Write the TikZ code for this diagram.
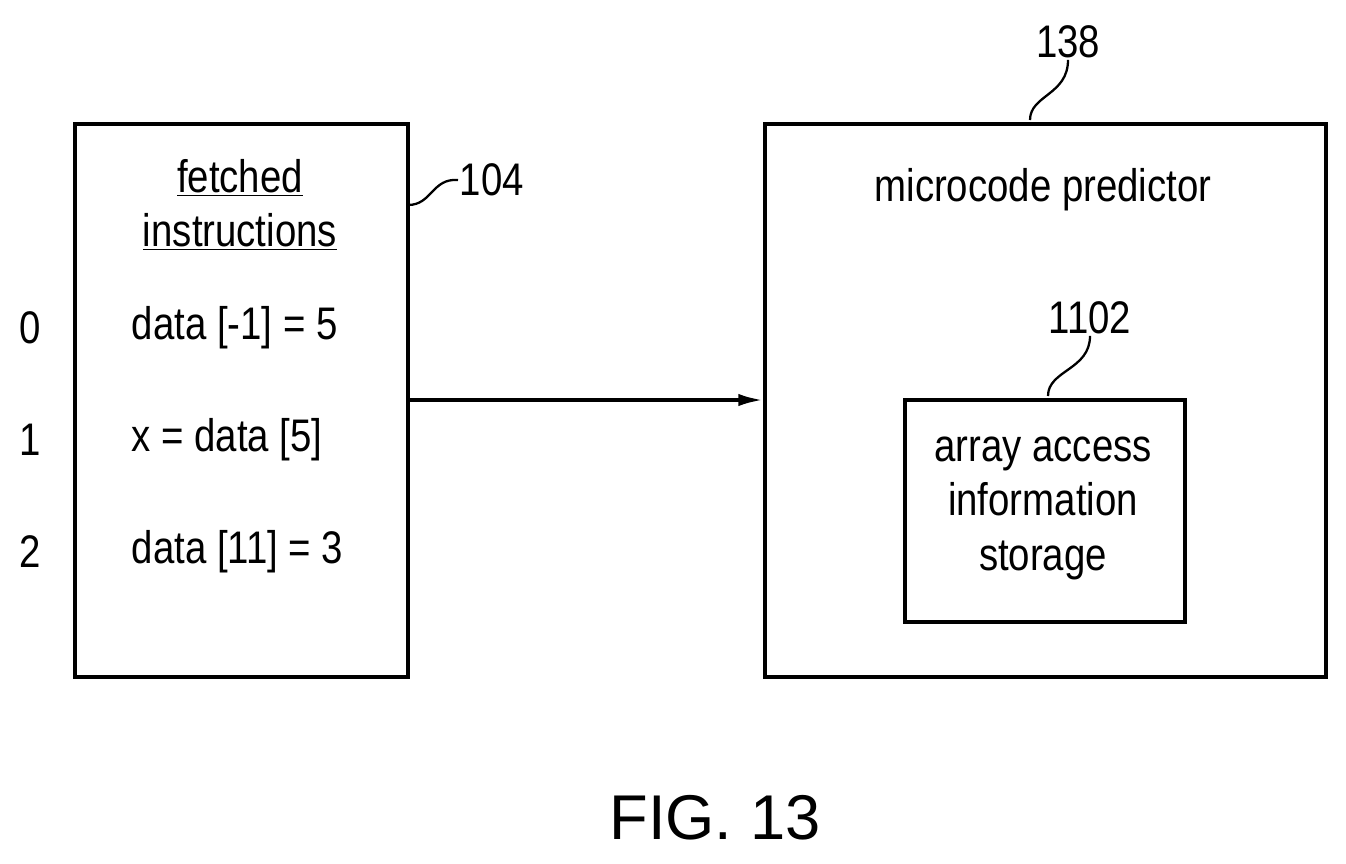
\documentclass[tikz,border=0pt]{standalone}
\usepackage{fontspec}
\setmainfont{Liberation Sans}[FakeStretch=0.84]
\newfontfamily\figfont{Liberation Sans}
\usetikzlibrary{arrows.meta}

\begin{document}
\begin{tikzpicture}[
            x = 0.02cm, y = -0.02cm, % pixel grid
            > = {Latex[length=14pt,width=7pt]}, % arrow head style
            line width = 2pt,
            txt/.style = {inner sep = 0pt, font = \fontsize{26}{31}\selectfont},
            lead/.style = {line width = 1.3pt}
        ]

        \useasboundingbox (0,0) rectangle (1346,863);

        % boxes
        \node[draw, minimum width=333*0.02cm, minimum height=553*0.02cm, anchor=north west, inner sep=0pt] (fetch) at (73,122) {};
        \node[draw, minimum width=561*0.02cm, minimum height=553*0.02cm, anchor=north west, inner sep=0pt] (pred) at (763,122) {};
        \node[draw, minimum width=280*0.02cm, minimum height=222*0.02cm, anchor=north west, inner sep=0pt] (store) at (903,398) {};

        % texts
        \node[txt] (ftitle) at (240,178) {\underline{fetched}};
        \node[txt] (ftitle2) at (240,232) {\underline{instructions}};
        \node[txt, anchor=west] (i0) at (130,328) {data [-1] = 5};
        \node[txt, anchor=west] (i1) at (130,440) {x = data [5]};
        \node[txt, anchor=west] (i2) at (130,552) {data [11] = 3};
        \node[txt] (n0) at (30,328) {0};
        \node[txt] (n1) at (30,440) {1};
        \node[txt] (n2) at (30,552) {2};
        \node[txt] (ptitle) at (1043,190) {microcode predictor};
        \node[txt, align=center] (stext) at (1043,508) {array access\\information\\storage};

        % reference numerals
        \node[txt, anchor=west] (r104) at (458,180) {104};
        \node[txt] (r138) at (1068,42) {138};
        \node[txt] (r1102) at (1090,318) {1102};

        \coordinate (l104) at (408,205);
        \coordinate (l138) at (1030,120);
        \coordinate (l1102) at (1048,396);

        \draw[lead] (l104) .. controls (432,205) and (432,178) .. (r104.west);
        \draw[lead] (l138) .. controls (1030,95) and (1068,95) .. (r138.south);
        \draw[lead] (l1102) .. controls (1048,370) and (1090,370) .. (r1102.south);

        % connector
        \draw[->] (fetch.east |- 0,400) -- (pred.west |- 0,400);

        \node[inner sep=0pt, font=\figfont\fontsize{36}{40}\selectfont] (fig) at (715,818) {FIG. 13};

  \end{tikzpicture}
\end{document}
